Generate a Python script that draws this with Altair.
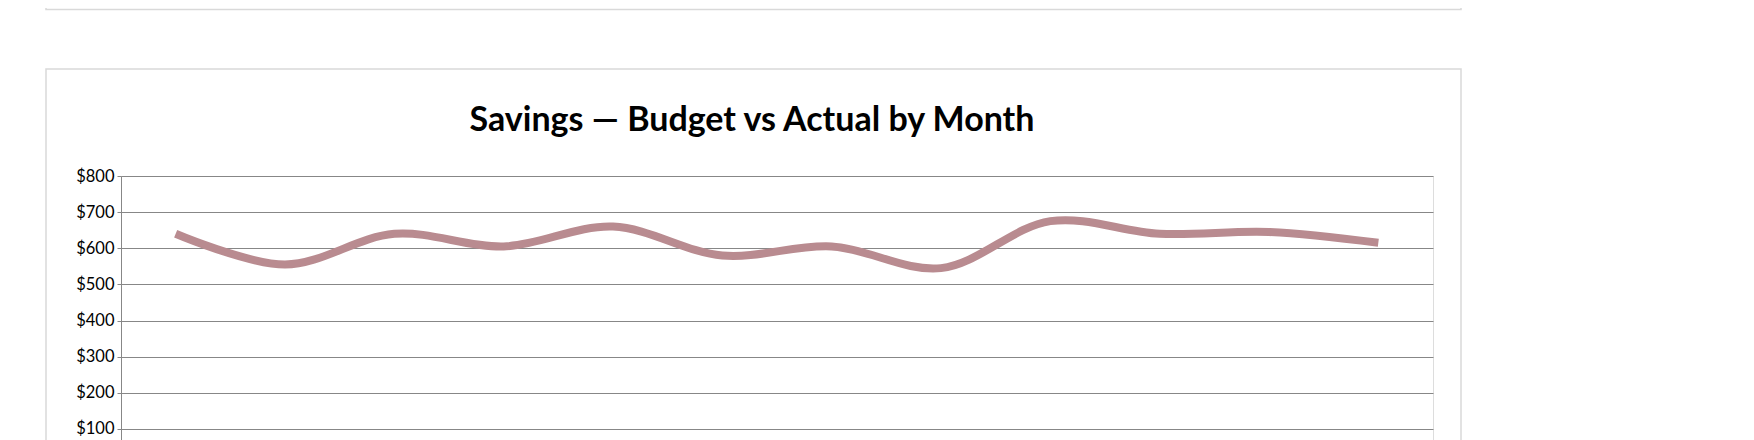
import altair as alt
import pandas as pd

# ---- data ----
months = ["Jan", "Feb", "Mar", "Apr", "May", "Jun",
          "Jul", "Aug", "Sep", "Oct", "Nov", "Dec"]
savings = [640, 555, 640, 605, 660, 580, 605, 545, 675, 640, 645, 615]
y_ticks = [100, 200, 300, 400, 500, 600, 700, 800]
title_text = "Savings \u2014 Budget vs Actual by Month"

df = pd.DataFrame({"Month": months, "Savings": savings})

GRID = "#878787"
CARD = "#d9d9d9"

line = alt.Chart(df).mark_line(
    interpolate="catmull-rom", strokeWidth=8, color="#b98b90", strokeCap="butt"
).encode(
    x=alt.X("Month:N", sort=months,
            axis=alt.Axis(title=None, labels=False, ticks=False, grid=False,
                          domainColor=GRID)),
    y=alt.Y("Savings:Q", scale=alt.Scale(domain=[0, 800], nice=False),
            axis=alt.Axis(title=None, values=y_ticks, format="$,.0f",
                          labelFont="Lato", labelFontSize=16.5, labelColor="#000000",
                          tickSize=4, labelPadding=3, domainColor=GRID,
                          tickColor=GRID, gridColor=GRID, gridWidth=1)),
)

frame_data = alt.Data(values=[{"k": 1}])

# card around this chart
card = alt.Chart(frame_data).mark_rect(
    filled=False, stroke=CARD, strokeWidth=1.5
).encode(
    x=alt.value(-75), x2=alt.value(1340),
    y=alt.value(-107), y2=alt.value(700),
)

# bottom edge of the card above
prev_card = alt.Chart(frame_data).mark_rect(
    filled=False, stroke=CARD, strokeWidth=1.5
).encode(
    x=alt.value(-75), x2=alt.value(1340),
    y=alt.value(-180), y2=alt.value(-166.5),
)

chart = alt.layer(prev_card, card, line).properties(
    width=1312,
    height=289,
    autosize=alt.AutoSizeParams(type="none"),
    padding={"left": 113, "top": 168, "right": 300, "bottom": 60},
    title=alt.TitleParams(title_text, font="Lato", fontSize=34, fontWeight="bold",
                          color="#000000", anchor="middle", dx=-25,
                          baseline="alphabetic", offset=0, dy=170),
).configure_view(stroke=None).configure(background="white")

chart.save("out.html", embed_options={"renderer": "svg", "actions": False})
